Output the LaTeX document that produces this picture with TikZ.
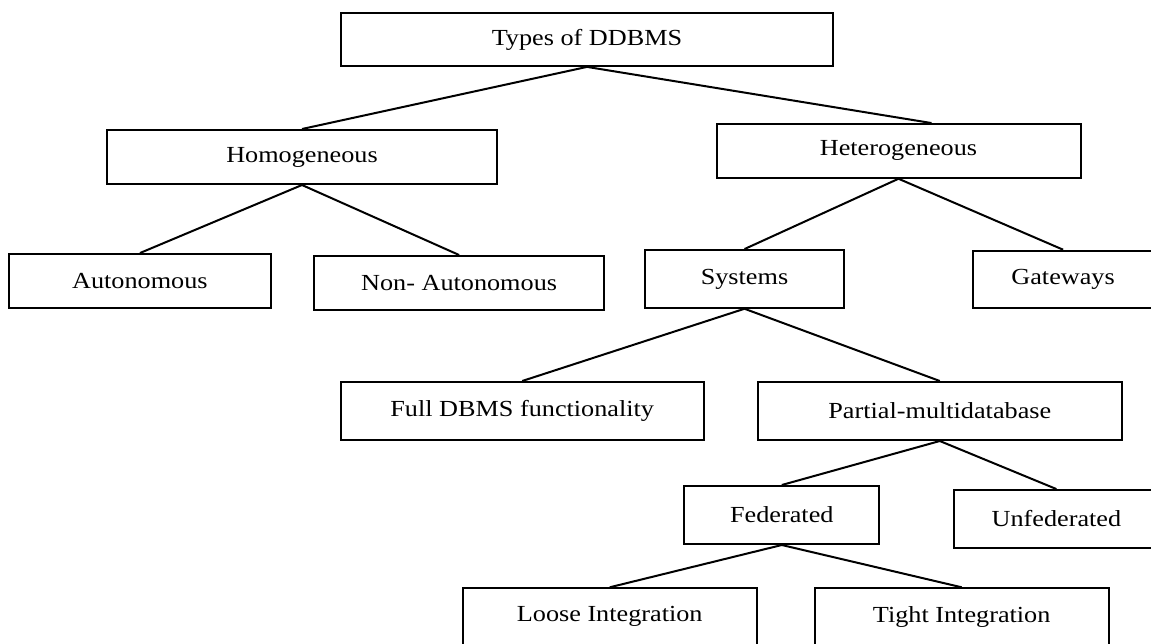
\documentclass[tikz,border=0pt]{standalone}
\usepackage{fontspec}
\setmainfont{Liberation Serif}
\newcommand{\stretchtext}[1]{\scalebox{1.14}[1]{#1}}
\tikzset{
  box/.style={draw, line width=2pt, inner sep=0pt, rectangle,
    font=\fontsize{23}{27}\selectfont},
  link/.style={line width=2pt},
}
\begin{document}
\begin{tikzpicture}[x=1pt, y=-1pt]
  \useasboundingbox (0,0) rectangle (1151,643);
  \clip (0,0) rectangle (1151,643);

  % level 0
  \node[box, minimum width=492pt, minimum height=53pt]   (types)   at (587,39.4)   {\stretchtext{Types of DDBMS}};
  % level 1
  \node[box, minimum width=390pt, minimum height=54pt]   (homog)   at (302,157)    {\stretchtext{Homogeneous}};
  \node[box, minimum width=364pt, minimum height=53.7pt] (hetero)  at (898.5,150.9) {\stretchtext{Heterogeneous}};
  % level 2
  \node[box, minimum width=262.8pt, minimum height=54.3pt] (auto)    at (139.9,281.2) {\stretchtext{Autonomous}};
  \node[box, minimum width=289.4pt, minimum height=54pt]   (nonauto) at (459.1,283)   {\stretchtext{Non- Autonomous}};
  \node[box, minimum width=199.5pt, minimum height=57.7pt] (systems) at (744.5,278.9) {\stretchtext{Systems}};
  \node[box, minimum width=179.8pt, minimum height=57pt]   (gateways) at (1063.1,279.2) {\stretchtext{Gateways}};
  % level 3
  \node[box, minimum width=363pt, minimum height=58pt]   (full)    at (522.2,411)  {\stretchtext{Full DBMS functionality}};
  \node[box, minimum width=363.6pt, minimum height=58pt] (partial) at (939.8,411)  {\stretchtext{Partial-multidatabase}};
  % level 4
  \node[box, minimum width=194.9pt, minimum height=58pt]   (fed)   at (781.8,515)   {\stretchtext{Federated}};
  \node[box, minimum width=205.2pt, minimum height=57.7pt] (unfed) at (1056.4,518.9) {\stretchtext{Unfederated}};
  % level 5
  \node[box, minimum width=293.8pt, minimum height=57pt] (loose) at (609.7,616.8) {\stretchtext{Loose Integration}};
  \node[box, minimum width=293.6pt, minimum height=57pt] (tight) at (961.7,616.8) {\stretchtext{Tight Integration}};

  % connectors
  \draw[link] (types.south) -- (homog.north);
  \draw[link] (types.south) -- ([xshift=33pt]hetero.north);
  \draw[link] (homog.south) -- (auto.north);
  \draw[link] (homog.south) -- (nonauto.north);
  \draw[link] (hetero.south) -- (systems.north);
  \draw[link] (hetero.south) -- (gateways.north);
  \draw[link] (systems.south) -- (full.north);
  \draw[link] (systems.south) -- (partial.north);
  \draw[link] (partial.south) -- (fed.north);
  \draw[link] (partial.south) -- (unfed.north);
  \draw[link] (fed.south) -- (loose.north);
  \draw[link] (fed.south) -- (tight.north);
\end{tikzpicture}
\end{document}
